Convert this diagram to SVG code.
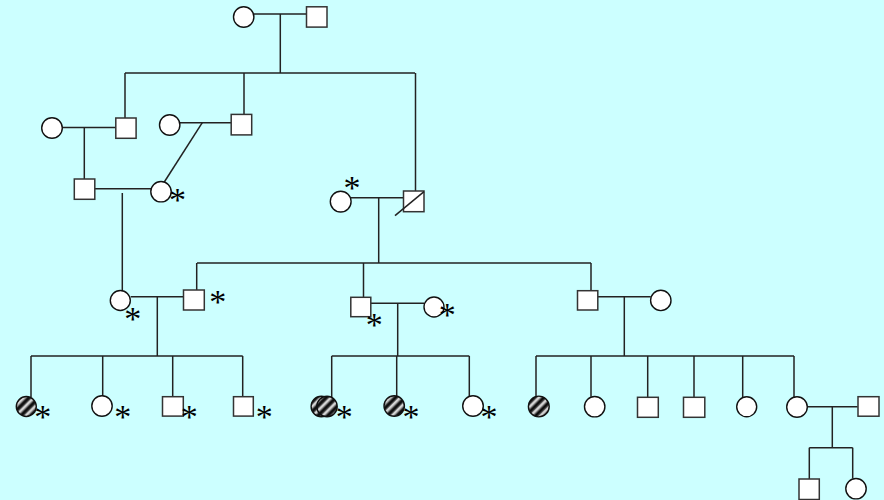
<svg xmlns="http://www.w3.org/2000/svg" width="884" height="500" viewBox="0 0 884 500">
  <defs>
    <!-- soft black/white band used for the hatched (affected) symbols -->
    <linearGradient id="band" x1="0" y1="0" x2="1" y2="0">
      <stop offset="0" stop-color="#000"/>
      <stop offset="0.3" stop-color="#222"/>
      <stop offset="0.55" stop-color="#fff"/>
      <stop offset="0.8" stop-color="#888"/>
      <stop offset="1" stop-color="#000"/>
    </linearGradient>
    <pattern id="stripes" width="7" height="7" patternUnits="userSpaceOnUse" patternTransform="rotate(45)">
      <rect width="7" height="7" fill="url(#band)"/>
    </pattern>
  </defs>
  <style>
    .ln { stroke: #222; stroke-width: 1.5; fill: none; }
    .m { fill: #fff; stroke: #333; stroke-width: 1.5; }
    .f { fill: #fff; stroke: #111; stroke-width: 1.4; }
    .a { fill: url(#stripes); stroke: #111; stroke-width: 1.4; }
    .st { font-family: "Liberation Serif", "Times New Roman", serif; font-size: 34px; fill: #000; text-anchor: middle; }
  </style>

  <rect width="884" height="500" fill="#ccffff"/>

  <!-- connectors -->
  <g id="connectors" class="ln">
    <!-- generation I -->
    <line x1="254" y1="14" x2="306" y2="14"/>
    <line x1="280.3" y1="14" x2="280.3" y2="73"/>
    <line x1="125" y1="73" x2="415" y2="73"/>
    <line x1="125" y1="73" x2="125" y2="118"/>
    <line x1="244" y1="73" x2="244" y2="114.5"/>
    <line x1="415.5" y1="73" x2="415.5" y2="191"/>
    <!-- generation II -->
    <line x1="62" y1="127.5" x2="116" y2="127.5"/>
    <line x1="84.3" y1="127.5" x2="84.3" y2="179"/>
    <line x1="180" y1="122.7" x2="231" y2="122.7"/>
    <line x1="202.3" y1="122.7" x2="164.3" y2="182"/>
    <line x1="95" y1="188.7" x2="151" y2="188.7"/>
    <line x1="122.3" y1="193" x2="122.3" y2="291"/>
    <line x1="351" y1="197.7" x2="403.3" y2="197.7"/>
    <line x1="378.7" y1="197.7" x2="378.7" y2="263"/>
    <line x1="197" y1="263" x2="591" y2="263"/>
    <line x1="196.7" y1="263" x2="196.7" y2="290"/>
    <line x1="363.5" y1="263" x2="363.5" y2="297.3"/>
    <line x1="591" y1="263" x2="591" y2="290.7"/>
    <!-- generation III -->
    <line x1="130.7" y1="296.7" x2="183.3" y2="296.7"/>
    <line x1="157.3" y1="296.7" x2="157.3" y2="356"/>
    <line x1="31" y1="356" x2="242.7" y2="356"/>
    <line x1="31" y1="356" x2="31" y2="397"/>
    <line x1="102.7" y1="356" x2="102.7" y2="396"/>
    <line x1="172.7" y1="356" x2="172.7" y2="396.7"/>
    <line x1="242.7" y1="356" x2="242.7" y2="396.7"/>
    <line x1="370.7" y1="303.3" x2="424" y2="303.3"/>
    <line x1="397.7" y1="303.3" x2="397.7" y2="356"/>
    <line x1="331.7" y1="356" x2="469.3" y2="356"/>
    <line x1="331.7" y1="356" x2="331.7" y2="397"/>
    <line x1="396.7" y1="356" x2="396.7" y2="396.5"/>
    <line x1="469.3" y1="356" x2="469.3" y2="396.5"/>
    <line x1="597.7" y1="296.7" x2="650.7" y2="296.7"/>
    <line x1="624.3" y1="296.7" x2="624.3" y2="356"/>
    <line x1="536" y1="356" x2="794" y2="356"/>
    <line x1="536" y1="356" x2="536" y2="397"/>
    <line x1="591" y1="356" x2="591" y2="396.8"/>
    <line x1="647.7" y1="356" x2="647.7" y2="397.3"/>
    <line x1="694" y1="356" x2="694" y2="397.3"/>
    <line x1="742.7" y1="356" x2="742.7" y2="397"/>
    <line x1="794" y1="356" x2="794" y2="397"/>
    <!-- generation IV -->
    <line x1="807.3" y1="406.7" x2="857.7" y2="406.7"/>
    <line x1="832.3" y1="406.7" x2="832.3" y2="447.7"/>
    <line x1="809.3" y1="447.7" x2="852.7" y2="447.7"/>
    <line x1="809.3" y1="447.7" x2="809.3" y2="479"/>
    <line x1="852.7" y1="447.7" x2="852.7" y2="478.5"/>
  </g>

  <!-- generation I -->
  <g id="i1"><circle class="f" cx="243.7" cy="17" r="10.2"/></g>
  <g id="i2"><rect class="m" x="306.5" y="6.8" width="20.5" height="20.3"/></g>

  <!-- generation II -->
  <g id="ii1"><circle class="f" cx="52" cy="128" r="10.3"/></g>
  <g id="ii2"><rect class="m" x="115.8" y="118" width="20.3" height="20.3"/></g>
  <g id="ii3"><circle class="f" cx="169.7" cy="125" r="10.2"/></g>
  <g id="ii4"><rect class="m" x="231.2" y="114.4" width="20.5" height="20.5"/></g>
  <g id="ii5"><rect class="m" x="74.3" y="179" width="20.5" height="20.3"/></g>
  <g id="ii6"><circle class="f" cx="161" cy="191.7" r="10.2"/><text class="st" x="177.5" y="211">*</text></g>
  <g id="ii7"><circle class="f" cx="340.7" cy="201.6" r="10.4"/><text class="st" x="352" y="199">*</text></g>
  <g id="ii8">
    <rect class="m" x="403.5" y="191" width="20.5" height="20.7"/>
    <line class="ln" x1="395" y1="215.7" x2="424" y2="191.7"/>
  </g>

  <!-- generation III -->
  <g id="iii1"><circle class="f" cx="120.3" cy="300.5" r="10"/><text class="st" x="132.7" y="330.3">*</text></g>
  <g id="iii2"><rect class="m" x="183.5" y="290" width="20.8" height="20"/><text class="st" x="217.7" y="313">*</text></g>
  <g id="iii3"><rect class="m" x="350.8" y="297.3" width="20" height="19.4"/><text class="st" x="374.3" y="336">*</text></g>
  <g id="iii4"><circle class="f" cx="434" cy="307" r="10"/><text class="st" x="447.3" y="326">*</text></g>
  <g id="iii5"><rect class="m" x="577.5" y="290.7" width="20.3" height="19.3"/></g>
  <g id="iii6"><circle class="f" cx="660.8" cy="300.4" r="10.2"/></g>

  <!-- generation IV -->
  <g id="iv1"><circle class="a" cx="26.3" cy="406.5" r="10"/><text class="st" x="42.7" y="427.7">*</text></g>
  <g id="iv2"><circle class="f" cx="102" cy="406" r="10.2"/><text class="st" x="122.7" y="428.3">*</text></g>
  <g id="iv3"><rect class="m" x="162.5" y="396.7" width="20.8" height="19.4"/><text class="st" x="189.3" y="427.7">*</text></g>
  <g id="iv4"><rect class="m" x="233.5" y="396.7" width="19.8" height="19.4"/><text class="st" x="264.3" y="428.3">*</text></g>
  <g id="iv5">
    <circle class="a" cx="321.3" cy="406.5" r="10.2"/>
    <circle class="a" cx="327" cy="406.5" r="10.2"/>
    <text class="st" x="344.3" y="427.7">*</text>
  </g>
  <g id="iv6"><circle class="a" cx="394.2" cy="406" r="10.2"/><text class="st" x="411" y="428">*</text></g>
  <g id="iv7"><circle class="f" cx="473" cy="406" r="10.3"/><text class="st" x="489" y="428">*</text></g>
  <g id="iv8"><circle class="a" cx="538.8" cy="406.5" r="10.4"/></g>
  <g id="iv9"><circle class="f" cx="594.7" cy="406.7" r="10.2"/></g>
  <g id="iv10"><rect class="m" x="637.5" y="397.3" width="20.8" height="20"/></g>
  <g id="iv11"><rect class="m" x="683.5" y="397.3" width="21.3" height="20"/></g>
  <g id="iv12"><circle class="f" cx="746.7" cy="406.8" r="10"/></g>
  <g id="iv13"><circle class="f" cx="797" cy="407" r="10.3"/></g>
  <g id="iv14"><rect class="m" x="858" y="396.7" width="21" height="19.5"/></g>

  <!-- generation V -->
  <g id="v1"><rect class="m" x="799" y="479" width="20.3" height="20.5"/></g>
  <g id="v2"><circle class="f" cx="856" cy="488.7" r="10.2"/></g>
</svg>
